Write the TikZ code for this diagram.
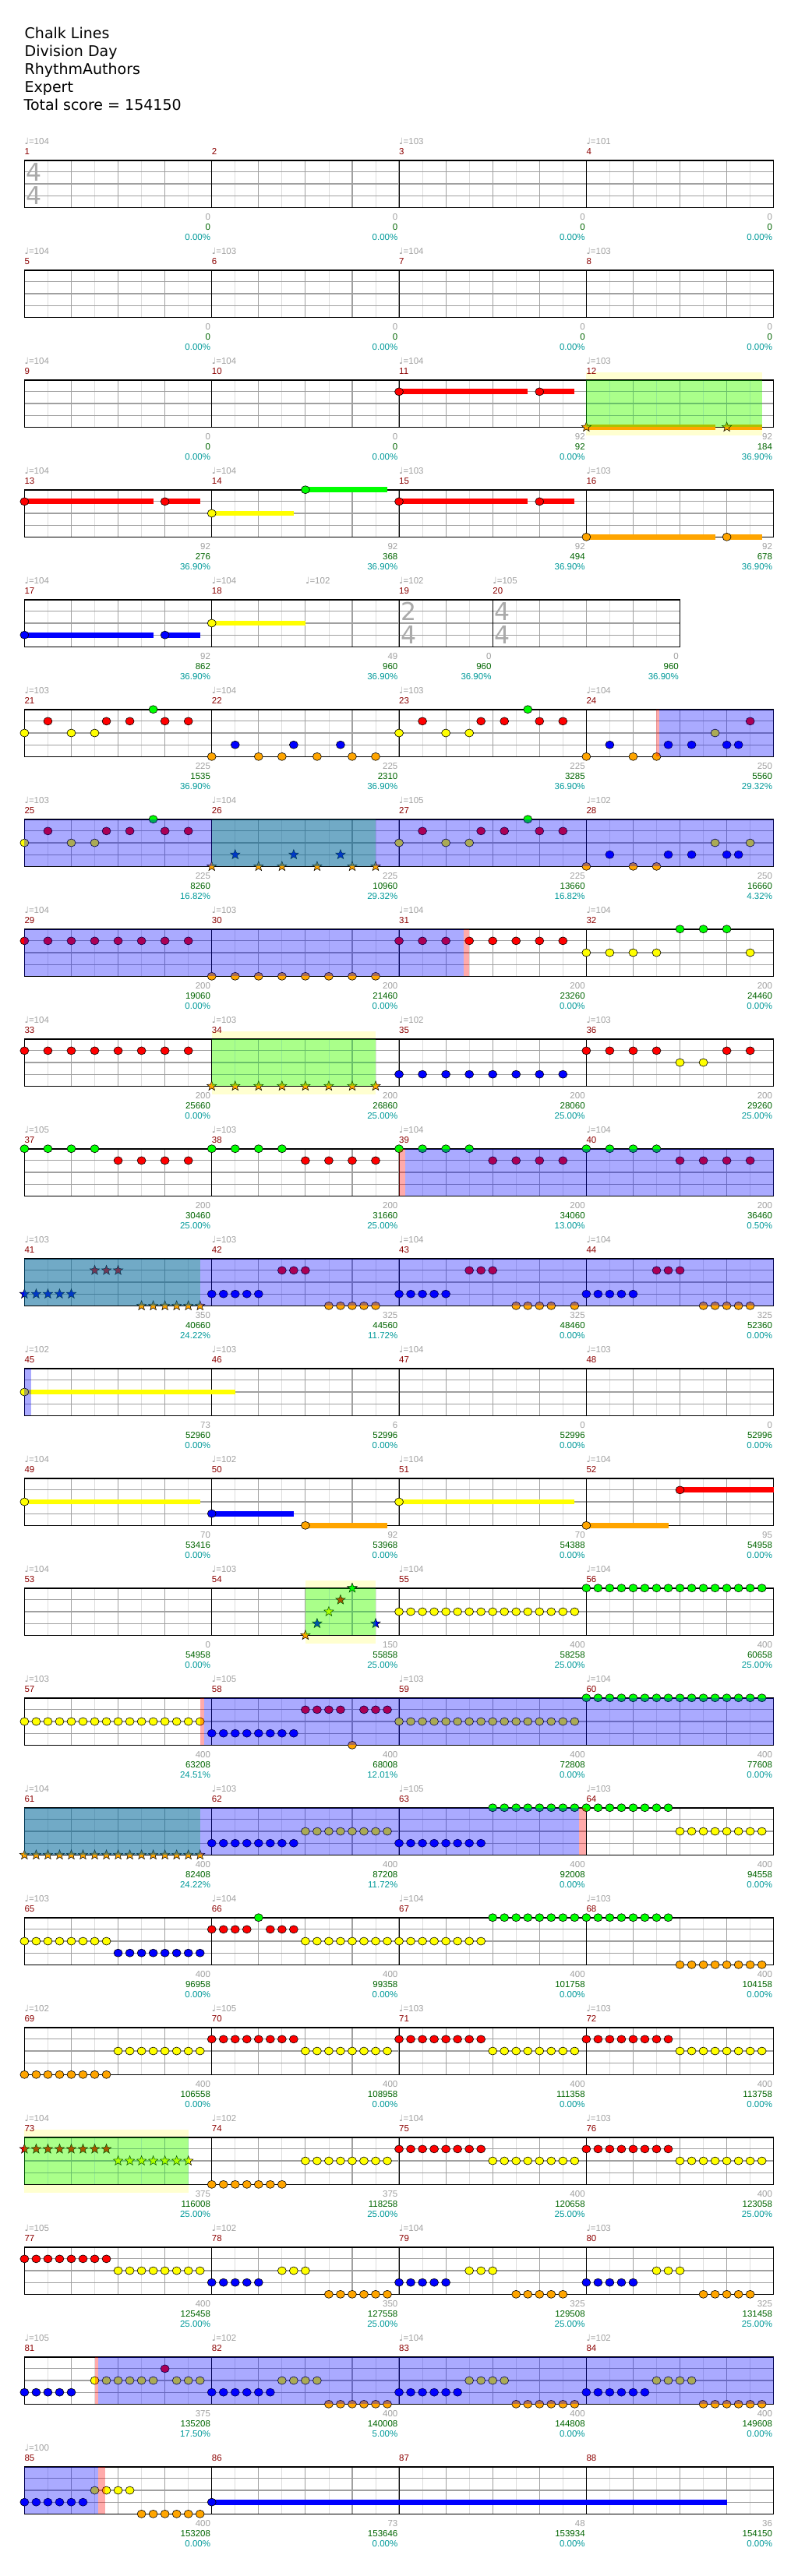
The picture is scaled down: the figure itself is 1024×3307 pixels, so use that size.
\documentclass[tikz,border=0pt]{standalone}
\usepackage{fontspec}
\setmainfont{DejaVu Sans}
\newfontfamily\labfont{Liberation Sans}
\usetikzlibrary{shapes.geometric, backgrounds}
\pgfdeclarelayer{front}
\pgfsetlayers{background,main,front}

\definecolor{fretG}{RGB}{0,255,0}
\definecolor{fretR}{RGB}{255,0,0}
\definecolor{fretY}{RGB}{255,255,0}
\definecolor{fretB}{RGB}{0,0,255}
\definecolor{fretO}{RGB}{255,165,0}
\definecolor{beatgray}{RGB}{160,160,160}
\definecolor{halfgray}{RGB}{221,221,221}
\definecolor{sigGray}{RGB}{170,170,170}
\definecolor{numred}{RGB}{139,0,0}
\definecolor{sumgreen}{RGB}{0,100,0}
\definecolor{pcteal}{RGB}{0,153,153}
\definecolor{bandyellow}{RGB}{255,255,208}

% lanes, top line to bottom line
\def\laneG{0}\def\laneR{1}\def\laneY{2}\def\laneB{3}\def\laneO{4}

% one staff row: row, length in 16ths, bar positions
\newcommand\staff[3]{%
  \pgfmathsetmacro\rowT{rowtop(#1)}%
  \pgfmathtruncatemacro\lastl{#2-2}%
  \pgfmathtruncatemacro\lastd{#2-4}%
  \foreach \k in {2,6,...,\lastl} \draw[halfbeat] ({xat(\k)},\rowT) -- ++(0,60.6);
  \foreach \k in {4,8,...,\lastd} \draw[beat] ({xat(\k)},\rowT) -- ++(0,60.6);
  \foreach \l in {1,2,3} \draw[beat] ({xat(0)},{\rowT+lanedy(\l)}) -- ({xat(#2)},{\rowT+lanedy(\l)});
  \foreach \k in {#3} \draw[barline] ({xat(\k)},\rowT) -- ++(0,60.6);
  \draw[staffframe] ({xat(0)},\rowT) rectangle ({xat(#2)},{\rowT+60.6});}

\newcommand\bpm[1]{{\rmfamily ♩}=#1}

% measure texts: row, from, to, number, tempo, gain, total, percent
\newcommand\meas[8]{%
  \pgfmathsetmacro\rowT{rowtop(#1)}%
  \node[barnum] (m#4) at ({xat(#2)},{\rowT-7.7}) {#4};
  \if\relax\detokenize{#5}\relax\else
    \node[tempo] (t#4) at ({xat(#2)},{\rowT-20.7}) {\bpm{#5}};\fi
  \node[gain] (a#4) at ({xat(#3)-1.5},{\rowT+76.5}) {#6};
  \node[total] (s#4) at ({xat(#3)-1.5},{\rowT+89.5}) {#7};
  \node[pct] (p#4) at ({xat(#3)-1.5},{\rowT+102.5}) {#8\%};}

\newcommand\tsig[4]{%
  \node[tsig] at ({xat(#2)+12.5},{rowtop(#1)+15}) {#3};
  \node[tsig] at ({xat(#2)+12.5},{rowtop(#1)+45}) {#4};}

\newcommand\gems[3]{\edef\ly{\csname lane#2\endcsname}%
  \foreach \p in {#3} \node[gem, fill=fret#2] (g#1#2\p) at ({xat(\p)},{rowtop(#1)+lanedy(\ly)}) {};}
\newcommand\stars[3]{\edef\ly{\csname lane#2\endcsname}%
  \foreach \p in {#3} \node[starnote, fill=fret#2] (s#1#2\p) at ({xat(\p)},{rowtop(#1)+lanedy(\ly)}) {};}
\newcommand\hold[4]{\edef\ly{\csname lane#2\endcsname}%
  \fill[fret#2] ({xat(#3)},{rowtop(#1)+lanedy(\ly)-3.4}) rectangle ({xat(#4)},{rowtop(#1)+lanedy(\ly)+3.4});
  \node[gem, fill=fret#2] (h#1#2#3) at ({xat(#3)},{rowtop(#1)+lanedy(\ly)}) {};}
\newcommand\starhold[4]{\edef\ly{\csname lane#2\endcsname}%
  \fill[fret#2] ({xat(#3)},{rowtop(#1)+lanedy(\ly)-3.4}) rectangle ({xat(#4)},{rowtop(#1)+lanedy(\ly)+3.4});
  \node[starnote, fill=fret#2] (h#1#2#3) at ({xat(#3)},{rowtop(#1)+lanedy(\ly)}) {};}

% shaded spans
\newcommand\band[3]{\begin{scope}[on background layer]
  \fill[bandyellow] ({xat(#2)},{rowtop(#1)-9.5}) rectangle ({xat(#3)},{rowtop(#1)+71.5});\end{scope}}
\newcommand\solo[3]{\begin{pgfonlayer}{front}
  \fill[solofill] ({xat(#2)},{rowtop(#1)}) rectangle ({xat(#3)},{rowtop(#1)+60.6});\end{pgfonlayer}}
\newcommand\od[3]{\begin{pgfonlayer}{front}
  \fill[odfill] ({xat(#2)},{rowtop(#1)}) rectangle ({xat(#3)},{rowtop(#1)+60.6});\end{pgfonlayer}}
\newcommand\odedge[3]{\begin{pgfonlayer}{front}
  \fill[edgefill] ({xat(#2)},{rowtop(#1)}) rectangle ({xat(#3)},{rowtop(#1)+60.6});\end{pgfonlayer}}

\begin{document}
\begin{tikzpicture}[
    x=1pt, y=-1pt,
    declare function={rowtop(\r)=205.7+(\r-1)*141; xat(\p)=31.4+\p*15.02; lanedy(\l)=15.15*\l;},
    gem/.style={ellipse, draw=black, line width=0.6pt, minimum width=11pt, minimum height=10pt, inner sep=0pt},
    starnote/.style={star, star points=5, star point ratio=2.4, draw=black, line width=0.5pt,
                     minimum size=13pt, inner sep=0pt},
    halfbeat/.style={draw=halfgray, line width=0.8pt},
    beat/.style={draw=beatgray, line width=1.1pt},
    barline/.style={draw=black, line width=1pt},
    staffframe/.style={draw=black, line width=1.6pt},
    lbl/.style={inner sep=0pt, font=\labfont\fontsize{11.5}{12}\selectfont},
    barnum/.style={lbl, anchor=base west, text=numred},
    tempo/.style={lbl, anchor=base west, text=beatgray},
    gain/.style={lbl, anchor=base east, text=beatgray},
    total/.style={lbl, anchor=base east, text=sumgreen},
    pct/.style={lbl, anchor=base east, text=pcteal},
    tsig/.style={inner sep=0pt, text=sigGray, font=\fontsize{31.5}{32}\selectfont},
    title/.style={anchor=base west, inner sep=0pt, font=\fontsize{19}{22}\selectfont},
    solofill/.style={fill=green, fill opacity=0.333},
    odfill/.style={fill=blue, fill opacity=0.333},
    edgefill/.style={fill=red, fill opacity=0.333}
]
\useasboundingbox (0,0) rectangle (1024,3307);

\node[title] (song) at (31.5,49) {Chalk Lines};
\node[title] (artist) at (31.5,72) {Division Day};
\node[title] (charter) at (31.5,95) {RhythmAuthors};
\node[title] (level) at (31.5,118) {Expert};
\node[title] (score) at (30.5,141) {Total score = 154150};

% row 1
\staff{1}{64}{16,32,48}
\tsig{1}{0}{4}{4}
\meas{1}{0}{16}{1}{104}{0}{0}{0.00}
\meas{1}{16}{32}{2}{}{0}{0}{0.00}
\meas{1}{32}{48}{3}{103}{0}{0}{0.00}
\meas{1}{48}{64}{4}{101}{0}{0}{0.00}

% row 2
\staff{2}{64}{16,32,48}
\meas{2}{0}{16}{5}{104}{0}{0}{0.00}
\meas{2}{16}{32}{6}{103}{0}{0}{0.00}
\meas{2}{32}{48}{7}{104}{0}{0}{0.00}
\meas{2}{48}{64}{8}{103}{0}{0}{0.00}

% row 3
\band{3}{48}{63}
\staff{3}{64}{16,32,48}
\hold{3}{R}{32}{43} \hold{3}{R}{44}{47}
\starhold{3}{O}{48}{59} \starhold{3}{O}{60}{63}
\solo{3}{48}{63}
\meas{3}{0}{16}{9}{104}{0}{0}{0.00}
\meas{3}{16}{32}{10}{104}{0}{0}{0.00}
\meas{3}{32}{48}{11}{104}{92}{92}{0.00}
\meas{3}{48}{64}{12}{103}{92}{184}{36.90}

% row 4
\staff{4}{64}{16,32,48}
\hold{4}{R}{0}{11} \hold{4}{R}{12}{15} \hold{4}{Y}{16}{23} \hold{4}{G}{24}{31}
\hold{4}{R}{32}{43} \hold{4}{R}{44}{47} \hold{4}{O}{48}{59} \hold{4}{O}{60}{63}
\meas{4}{0}{16}{13}{104}{92}{276}{36.90}
\meas{4}{16}{32}{14}{104}{92}{368}{36.90}
\meas{4}{32}{48}{15}{103}{92}{494}{36.90}
\meas{4}{48}{64}{16}{103}{92}{678}{36.90}

% row 5
\staff{5}{56}{16,32,40}
\tsig{5}{32}{2}{4} \tsig{5}{40}{4}{4}
\hold{5}{B}{0}{11} \hold{5}{B}{12}{15} \hold{5}{Y}{16}{24}
\meas{5}{0}{16}{17}{104}{92}{862}{36.90}
\meas{5}{16}{32}{18}{104}{49}{960}{36.90}
\node[tempo] (t18b) at ({xat(24)},{rowtop(5)-20.7}) {\bpm{102}};
\meas{5}{32}{40}{19}{102}{0}{960}{36.90}
\meas{5}{40}{56}{20}{105}{0}{960}{36.90}

% row 6
\staff{6}{64}{16,32,48}
\gems{6}{Y}{0,4,6,32,36,38,59}
\gems{6}{R}{2,7,9,12,14,34,39,41,44,46,62}
\gems{6}{G}{11,43}
\gems{6}{B}{18,23,27,50,55,57,60,61}
\gems{6}{O}{16,20,22,25,28,30,48,52,54}
\odedge{6}{54}{54.25} \od{6}{54.25}{64}
\meas{6}{0}{16}{21}{103}{225}{1535}{36.90}
\meas{6}{16}{32}{22}{104}{225}{2310}{36.90}
\meas{6}{32}{48}{23}{103}{225}{3285}{36.90}
\meas{6}{48}{64}{24}{104}{250}{5560}{29.32}

% row 7
\staff{7}{64}{16,32,48}
\gems{7}{Y}{0,4,6,32,36,38,59,62}
\gems{7}{R}{2,7,9,12,14,34,39,41,44,46}
\gems{7}{G}{11,43}
\gems{7}{B}{50,55,57,60,61}
\gems{7}{O}{48,52,54}
\stars{7}{O}{16,20,22,25,28,30}
\stars{7}{B}{18,23,27}
\solo{7}{16}{30} \od{7}{0}{64}
\meas{7}{0}{16}{25}{103}{225}{8260}{16.82}
\meas{7}{16}{32}{26}{104}{225}{10960}{29.32}
\meas{7}{32}{48}{27}{105}{225}{13660}{16.82}
\meas{7}{48}{64}{28}{102}{250}{16660}{4.32}

% row 8
\staff{8}{64}{16,32,48}
\gems{8}{R}{0,2,...,14}
\gems{8}{R}{32,34,...,46}
\gems{8}{O}{16,18,...,30}
\gems{8}{G}{56,58,60}
\gems{8}{Y}{48,50,52,54,62}
\od{8}{0}{37.5} \odedge{8}{37.5}{38}
\meas{8}{0}{16}{29}{104}{200}{19060}{0.00}
\meas{8}{16}{32}{30}{103}{200}{21460}{0.00}
\meas{8}{32}{48}{31}{104}{200}{23260}{0.00}
\meas{8}{48}{64}{32}{104}{200}{24460}{0.00}

% row 9
\band{9}{16}{30}
\staff{9}{64}{16,32,48}
\gems{9}{R}{0,2,...,14}
\gems{9}{R}{48,50,52,54,60,62}
\stars{9}{O}{16,18,...,30}
\gems{9}{B}{32,34,...,46}
\gems{9}{Y}{56,58}
\solo{9}{16}{30}
\meas{9}{0}{16}{33}{104}{200}{25660}{0.00}
\meas{9}{16}{32}{34}{103}{200}{26860}{25.00}
\meas{9}{32}{48}{35}{102}{200}{28060}{25.00}
\meas{9}{48}{64}{36}{103}{200}{29260}{25.00}

% row 10
\staff{10}{64}{16,32,48}
\gems{10}{G}{0,2,4,6,16,18,20,22,32,34,36,38,48,50,52,54}
\gems{10}{R}{8,10,12,14,24,26,28,30,40,42,44,46,56,58,60,62}
\odedge{10}{32}{32.53} \od{10}{32.53}{64}
\meas{10}{0}{16}{37}{105}{200}{30460}{25.00}
\meas{10}{16}{32}{38}{103}{200}{31660}{25.00}
\meas{10}{32}{48}{39}{104}{200}{34060}{13.00}
\meas{10}{48}{64}{40}{104}{200}{36460}{0.50}

% row 11
\staff{11}{64}{16,32,48}
\stars{11}{B}{0,...,4}
\stars{11}{R}{6,7,8}
\stars{11}{O}{10,...,15}
\gems{11}{B}{16,...,20} \gems{11}{B}{32,...,36} \gems{11}{B}{48,...,52}
\gems{11}{R}{22,23,24,38,39,40,54,55,56}
\gems{11}{O}{26,...,30} \gems{11}{O}{42,43,44,45,47} \gems{11}{O}{58,...,62}
\solo{11}{0}{15} \od{11}{0}{64}
\meas{11}{0}{16}{41}{103}{350}{40660}{24.22}
\meas{11}{16}{32}{42}{103}{325}{44560}{11.72}
\meas{11}{32}{48}{43}{104}{325}{48460}{0.00}
\meas{11}{48}{64}{44}{104}{325}{52360}{0.00}

% row 12
\staff{12}{64}{16,32,48}
\hold{12}{Y}{0}{18}
\od{12}{0}{0.57}
\meas{12}{0}{16}{45}{102}{73}{52960}{0.00}
\meas{12}{16}{32}{46}{103}{6}{52996}{0.00}
\meas{12}{32}{48}{47}{104}{0}{52996}{0.00}
\meas{12}{48}{64}{48}{103}{0}{52996}{0.00}

% row 13
\staff{13}{64}{16,32,48}
\hold{13}{Y}{0}{15} \hold{13}{B}{16}{23} \hold{13}{O}{24}{31}
\hold{13}{Y}{32}{47} \hold{13}{O}{48}{55} \hold{13}{R}{56}{64}
\meas{13}{0}{16}{49}{104}{70}{53416}{0.00}
\meas{13}{16}{32}{50}{102}{92}{53968}{0.00}
\meas{13}{32}{48}{51}{104}{70}{54388}{0.00}
\meas{13}{48}{64}{52}{104}{95}{54958}{0.00}

% row 14
\band{14}{24}{30}
\staff{14}{64}{16,32,48}
\stars{14}{O}{24} \stars{14}{B}{25,30} \stars{14}{Y}{26} \stars{14}{R}{27} \stars{14}{G}{28}
\gems{14}{Y}{32,...,47}
\gems{14}{G}{48,...,63}
\solo{14}{24}{30}
\meas{14}{0}{16}{53}{104}{0}{54958}{0.00}
\meas{14}{16}{32}{54}{103}{150}{55858}{25.00}
\meas{14}{32}{48}{55}{104}{400}{58258}{25.00}
\meas{14}{48}{64}{56}{104}{400}{60658}{25.00}

% row 15
\staff{15}{64}{16,32,48}
\gems{15}{Y}{0,...,15} \gems{15}{Y}{32,...,47}
\gems{15}{B}{16,...,23}
\gems{15}{R}{24,...,27} \gems{15}{R}{29,30,31}
\gems{15}{O}{28}
\gems{15}{G}{48,...,63}
\odedge{15}{15}{15.35} \od{15}{15.35}{64}
\meas{15}{0}{16}{57}{103}{400}{63208}{24.51}
\meas{15}{16}{32}{58}{105}{400}{68008}{12.01}
\meas{15}{32}{48}{59}{103}{400}{72808}{0.00}
\meas{15}{48}{64}{60}{104}{400}{77608}{0.00}

% row 16
\staff{16}{64}{16,32,48}
\stars{16}{O}{0,...,15}
\gems{16}{B}{16,...,23} \gems{16}{B}{32,...,39}
\gems{16}{Y}{24,...,31} \gems{16}{Y}{56,...,63}
\gems{16}{G}{40,...,55}
\solo{16}{0}{15} \od{16}{0}{47.38} \odedge{16}{47.38}{48}
\meas{16}{0}{16}{61}{104}{400}{82408}{24.22}
\meas{16}{16}{32}{62}{103}{400}{87208}{11.72}
\meas{16}{32}{48}{63}{105}{400}{92008}{0.00}
\meas{16}{48}{64}{64}{103}{400}{94558}{0.00}

% row 17
\staff{17}{64}{16,32,48}
\gems{17}{Y}{0,...,7} \gems{17}{Y}{24,...,39}
\gems{17}{B}{8,...,15}
\gems{17}{R}{16,17,18,19,21,22,23}
\gems{17}{G}{20} \gems{17}{G}{40,...,55}
\gems{17}{O}{56,...,63}
\meas{17}{0}{16}{65}{103}{400}{96958}{0.00}
\meas{17}{16}{32}{66}{104}{400}{99358}{0.00}
\meas{17}{32}{48}{67}{104}{400}{101758}{0.00}
\meas{17}{48}{64}{68}{103}{400}{104158}{0.00}

% row 18
\staff{18}{64}{16,32,48}
\gems{18}{O}{0,...,7}
\gems{18}{Y}{8,...,15} \gems{18}{Y}{24,...,31} \gems{18}{Y}{40,...,47} \gems{18}{Y}{56,...,63}
\gems{18}{R}{16,...,23} \gems{18}{R}{32,...,39} \gems{18}{R}{48,...,55}
\meas{18}{0}{16}{69}{102}{400}{106558}{0.00}
\meas{18}{16}{32}{70}{105}{400}{108958}{0.00}
\meas{18}{32}{48}{71}{103}{400}{111358}{0.00}
\meas{18}{48}{64}{72}{103}{400}{113758}{0.00}

% row 19
\band{19}{0}{14}
\staff{19}{64}{16,32,48}
\stars{19}{R}{0,...,7}
\stars{19}{Y}{8,...,14}
\gems{19}{O}{16,...,22}
\gems{19}{Y}{24,...,31} \gems{19}{Y}{40,...,47} \gems{19}{Y}{56,...,63}
\gems{19}{R}{32,...,39} \gems{19}{R}{48,...,55}
\solo{19}{0}{14}
\meas{19}{0}{16}{73}{104}{375}{116008}{25.00}
\meas{19}{16}{32}{74}{102}{375}{118258}{25.00}
\meas{19}{32}{48}{75}{104}{400}{120658}{25.00}
\meas{19}{48}{64}{76}{103}{400}{123058}{25.00}

% row 20
\staff{20}{64}{16,32,48}
\gems{20}{R}{0,...,7}
\gems{20}{Y}{8,...,15} \gems{20}{Y}{22,23,24,38,39,40,54,55,56}
\gems{20}{B}{16,...,20} \gems{20}{B}{32,...,36} \gems{20}{B}{48,...,52}
\gems{20}{O}{26,...,31} \gems{20}{O}{42,...,46} \gems{20}{O}{58,...,62}
\meas{20}{0}{16}{77}{105}{400}{125458}{25.00}
\meas{20}{16}{32}{78}{102}{350}{127558}{25.00}
\meas{20}{32}{48}{79}{104}{325}{129508}{25.00}
\meas{20}{48}{64}{80}{103}{325}{131458}{25.00}

% row 21
\staff{21}{64}{16,32,48}
\gems{21}{B}{0,...,4} \gems{21}{B}{16,...,21} \gems{21}{B}{32,...,37} \gems{21}{B}{48,...,53}
\gems{21}{Y}{6,...,11} \gems{21}{Y}{13,14,15} \gems{21}{Y}{22,...,25} \gems{21}{Y}{38,...,41} \gems{21}{Y}{54,...,57}
\gems{21}{R}{12}
\gems{21}{O}{26,...,31} \gems{21}{O}{42,...,47} \gems{21}{O}{58,...,63}
\odedge{21}{6}{6.3} \od{21}{6.3}{64}
\meas{21}{0}{16}{81}{105}{375}{135208}{17.50}
\meas{21}{16}{32}{82}{102}{400}{140008}{5.00}
\meas{21}{32}{48}{83}{104}{400}{144808}{0.00}
\meas{21}{48}{64}{84}{102}{400}{149608}{0.00}

% row 22
\staff{22}{64}{16,32,48}
\gems{22}{B}{0,...,5}
\gems{22}{Y}{6,...,9}
\gems{22}{O}{10,...,15}
\hold{22}{B}{16}{60}
\od{22}{0}{6.3} \odedge{22}{6.3}{6.93}
\meas{22}{0}{16}{85}{100}{400}{153208}{0.00}
\meas{22}{16}{32}{86}{}{73}{153646}{0.00}
\meas{22}{32}{48}{87}{}{48}{153934}{0.00}
\meas{22}{48}{64}{88}{}{36}{154150}{0.00}
\end{tikzpicture}
\end{document}
